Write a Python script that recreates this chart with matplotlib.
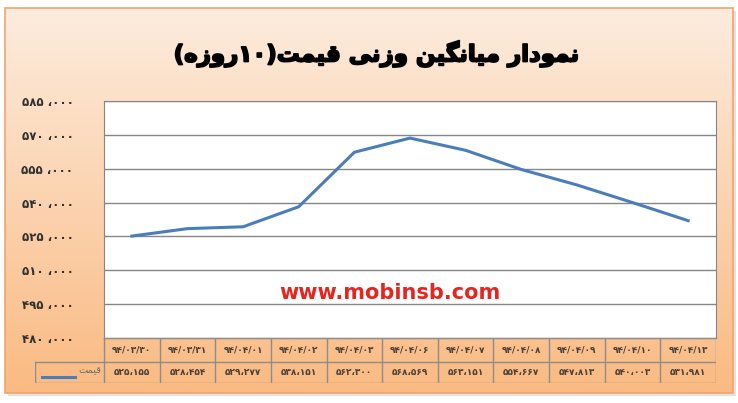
import re
import numpy as np
import matplotlib
matplotlib.use("Agg")
import matplotlib.pyplot as plt
import matplotlib.patheffects as pe
from matplotlib.patches import Rectangle

# data
dates = ["۹۴/۰۳/۳۰", "۹۴/۰۳/۳۱", "۹۴/۰۴/۰۱", "۹۴/۰۴/۰۲", "۹۴/۰۴/۰۳", "۹۴/۰۴/۰۶",
         "۹۴/۰۴/۰۷", "۹۴/۰۴/۰۸", "۹۴/۰۴/۰۹", "۹۴/۰۴/۱۰", "۹۴/۰۴/۱۳"]
prices = [525155, 528454, 529277, 538151, 562300, 568569,
          563151, 554667, 547813, 540003, 531981]
y_ticks = list(range(480000, 585001, 15000))
title = "نمودار میانگین وزنی قیمت(۱۰روزه)"
series_name = "قیمت"
watermark = "www.mobinsb.com"

FA = str.maketrans("0123456789", "۰۱۲۳۴۵۶۷۸۹")

# contextual forms: isolated, final, initial, medial
FORMS = {
    "ا": ("\uFE8D", "\uFE8E", None, None),
    "د": ("\uFEA9", "\uFEAA", None, None),
    "ر": ("\uFEAD", "\uFEAE", None, None),
    "ز": ("\uFEAF", "\uFEB0", None, None),
    "و": ("\uFEED", "\uFEEE", None, None),
    "ت": ("\uFE95", "\uFE96", "\uFE97", "\uFE98"),
    "ق": ("\uFED5", "\uFED6", "\uFED7", "\uFED8"),
    "م": ("\uFEE1", "\uFEE2", "\uFEE3", "\uFEE4"),
    "ن": ("\uFEE5", "\uFEE6", "\uFEE7", "\uFEE8"),
    "ه": ("\uFEE9", "\uFEEA", "\uFEEB", "\uFEEC"),
    "ی": ("\uFBFC", "\uFBFD", "\uFBFE", "\uFBFF"),
    "گ": ("\uFB92", "\uFB93", "\uFB94", "\uFB95"),
}
MIRROR = {"(": ")", ")": "("}


def rtl(txt):
    out = []
    for i, c in enumerate(txt):
        if c not in FORMS:
            out.append(MIRROR.get(c, c))
            continue
        f = FORMS[c]
        prev = txt[i - 1] if i > 0 else ""
        nxt = txt[i + 1] if i + 1 < len(txt) else ""
        jp = prev in FORMS and FORMS[prev][2] is not None
        jn = f[2] is not None and nxt in FORMS
        if jp and jn:
            out.append(f[3])
        elif jp:
            out.append(f[1])
        elif jn:
            out.append(f[2])
        else:
            out.append(f[0])
    vis = "".join(out)[::-1]
    # digit runs stay left-to-right
    return re.sub("[۰-۹]+", lambda m: m.group(0)[::-1], vis)


W, H = 738, 403
fig = plt.figure(figsize=(W / 100, H / 100), dpi=100)
fig.patch.set_facecolor("white")

# chart area background (gradient frame)
bg = fig.add_axes([0, 0, 1, 1])
bg.set_xlim(0, W)
bg.set_ylim(H, 0)
bg.axis("off")
bg.add_patch(Rectangle((8, 11), 728, 385, facecolor="#d0d0d0", edgecolor="none",
                       alpha=0.6, zorder=0.5))
top = np.array([253, 236, 222]) / 255
bot = np.array([250, 186, 130]) / 255
t = np.linspace(0, 1, 256)[:, None]
grad = (top * (1 - t) + bot * t)[:, None, :]
bg.imshow(grad, extent=(5, 733, 393, 8), aspect="auto", interpolation="bilinear",
          zorder=1)
bg.add_patch(Rectangle((5, 8), 728, 385, facecolor="none", edgecolor="#f2a46a",
                       lw=1.2, zorder=2))
bg.text(376, 54, rtl(title), ha="center", va="center", fontsize=16.5,
        fontweight="bold", color="black", family="DejaVu Sans", zorder=3,
        path_effects=[pe.withStroke(linewidth=1.3, foreground="black")])

# plot area
ax = fig.add_axes([104 / W, 1 - 338 / H, 612 / W, 237 / H])
ax.set_facecolor("white")
x = np.arange(len(prices))
ax.plot(x, prices, color="#4a7ebb", lw=2.2, solid_joinstyle="round")
ax.set_xlim(-0.5, len(prices) - 0.5)
ax.set_ylim(y_ticks[0], y_ticks[-1])
ax.set_yticks(y_ticks)
ax.set_yticklabels([f"{v:,}".replace(",", " ،").translate(FA) for v in y_ticks],
                   fontsize=8.5, fontweight="bold", color="#303030")
ax.tick_params(axis="y", length=0, pad=22)
ax.set_xticks([])
ax.grid(axis="y", color="#868686", lw=1)
for s in ax.spines.values():
    s.set_color("#868686")
ax.text(0.4665, 0.165, watermark, transform=ax.transAxes, ha="center", va="baseline",
        fontsize=15, fontweight="bold", color="#e8241e", family="DejaVu Sans")

# data table under the plot
unit = 612 / len(prices)
leg_w = (104 - 35) / unit
tax = fig.add_axes([35 / W, 1 - 383 / H, (716 - 35) / W, 45 / H])
tax.set_xlim(-0.5 - leg_w, len(prices) - 0.5)
tax.set_ylim(0, 45)
tax.axis("off")
gc = "#8c8c8c"
lo, mid, hi = 0, 21, 45
tax.plot([-0.5, len(prices) - 0.5], [hi, hi], color=gc, lw=1)
tax.plot([-0.5 - leg_w, len(prices) - 0.5], [mid, mid], color=gc, lw=1)
tax.plot([-0.5 - leg_w, len(prices) - 0.5], [lo, lo], color=gc, lw=1)
tax.plot([-0.5 - leg_w] * 2, [lo, mid], color=gc, lw=1)
for k in range(len(prices) + 1):
    tax.plot([k - 0.5] * 2, [lo, hi], color=gc, lw=1)
for k, (d, p) in enumerate(zip(dates, prices)):
    tax.text(k, (mid + hi) / 2, d, ha="center", va="center", fontsize=6.5,
             fontweight="bold", color="#4a4038")
    tax.text(k, (lo + mid) / 2, f"{p:,}".replace(",", "،").translate(FA),
             ha="center", va="center", fontsize=6.5, fontweight="bold", color="#4a4038")
tax.plot([-0.5 - leg_w + 0.13, -0.5 - leg_w + 0.72], [6, 6], color="#4a7ebb", lw=2.2)
tax.text(-0.55, 13, rtl(series_name), ha="right", va="center", fontsize=7,
         color="#707070")

fig.savefig("out.png", dpi=100)
